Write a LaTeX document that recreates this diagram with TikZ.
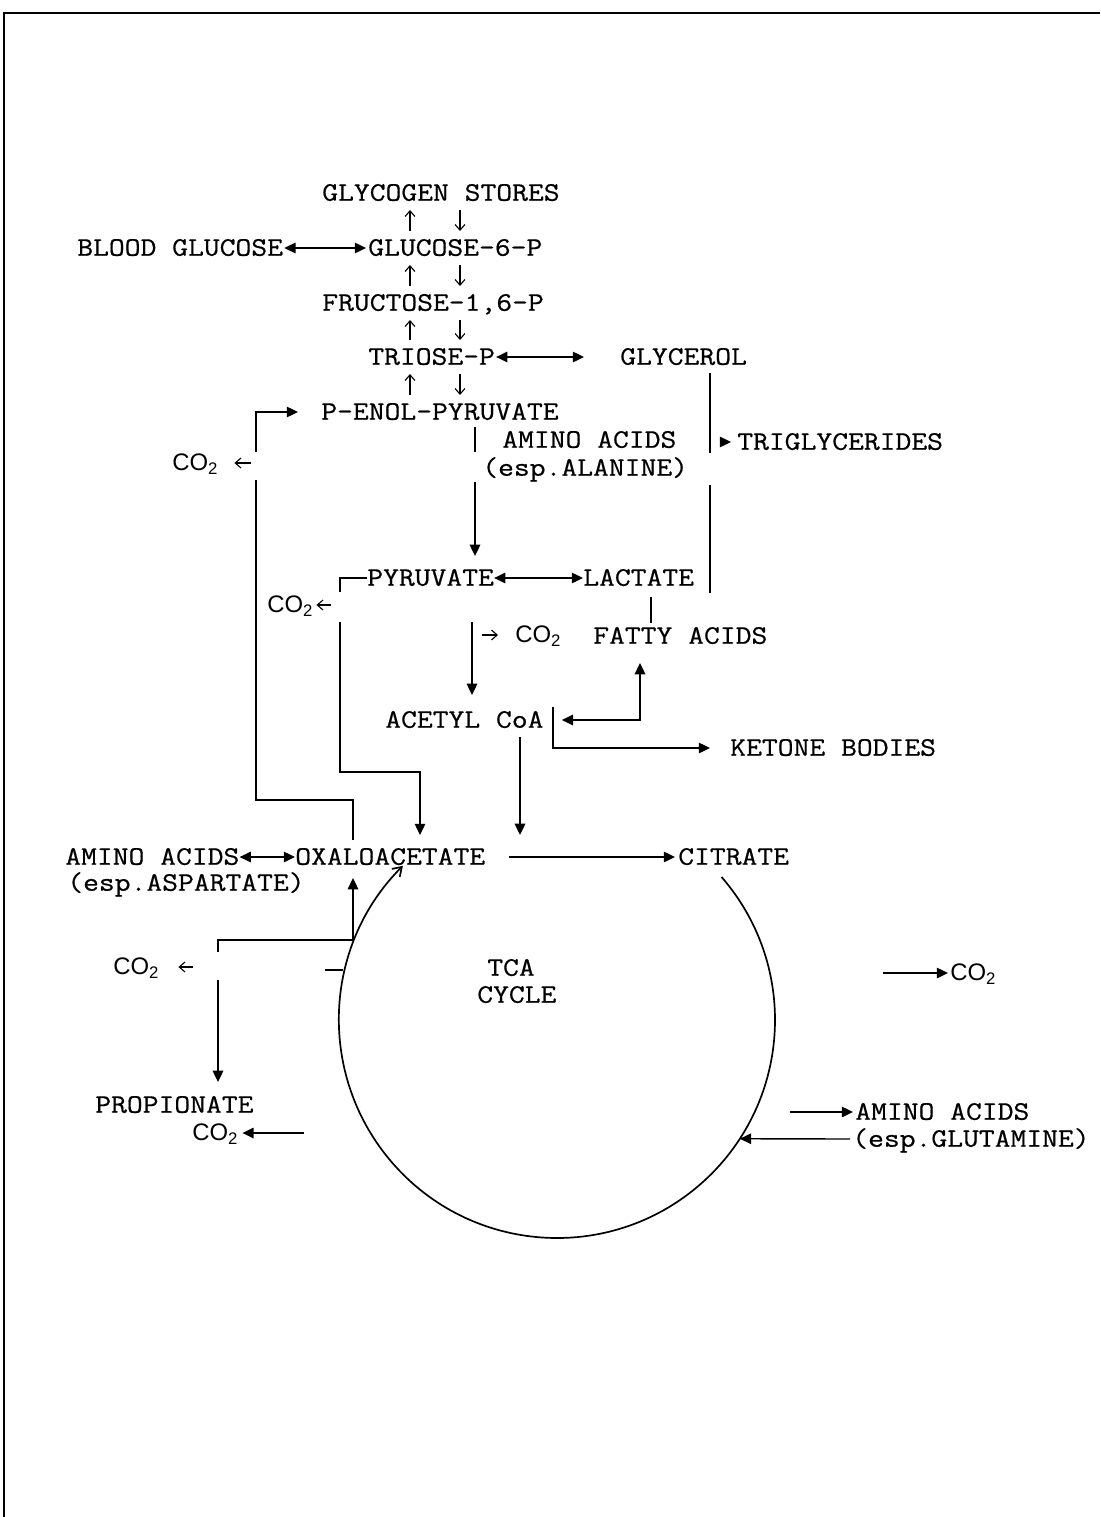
\documentclass[tikz,border=0pt]{standalone}
\usepackage{fontspec}
\setsansfont{Liberation Sans}
\setmonofont[FakeStretch=1.15, FakeBold=0.6]{Latin Modern Mono}
\usetikzlibrary{arrows.meta, calc}

\tikzset{
  lbl/.style={font=\ttfamily\fontsize{19}{23}\selectfont, inner sep=0pt,
              anchor=west, text height=11pt, text depth=0pt},
  co/.style={font=\sffamily\fontsize{17}{20}\selectfont, inner sep=0pt,
             anchor=west, text height=11pt, text depth=0pt},
  %
  plain/.style={line width=1pt},
  flow/.style={plain, -{Triangle[length=8pt, width=7.5pt]}},
  flowback/.style={plain, {Triangle[length=8pt, width=7.5pt]}-},
  flowboth/.style={plain, {Triangle[length=8pt, width=7.5pt]}-{Triangle[length=8pt, width=7.5pt]}},
  stick/.style={line width=0.8pt, -{Straight Barb[length=4pt, width=7pt]}},
  cyc/.style={line width=1.2pt},
}

\begin{document}
\begin{tikzpicture}[x=0.025cm, y=-0.025cm]
  \useasboundingbox (0,0) rectangle (1100,1517);
  \draw[line width=1.5pt] (4,1517) -- (4,13) -- (1100,13);

  % glycolysis column
  \node[lbl] (glyc)   at (322,193) {GLYCOGEN STORES};
  \node[lbl] (blood)  at (77,248)  {BLOOD GLUCOSE};
  \node[lbl] (g6p)    at (368,248) {GLUCOSE-6-P};
  \node[lbl] (f16p)   at (322,303) {FRUCTOSE-1,6-P};
  \node[lbl] (triose) at (368,357) {TRIOSE-P};
  \node[lbl] (glycerol) at (620,357) {GLYCEROL};
  \node[lbl] (pep)    at (321,412) {P-ENOL-PYRUVATE};
  \node[lbl] (aaala)  at (502,440) {AMINO ACIDS};
  \node[lbl] (ala)    at (482,468) {(esp.ALANINE)};
  \node[lbl] (tg)     at (737,442) {TRIGLYCERIDES};
  \node[lbl] (pyr)    at (367,578) {PYRUVATE};
  \node[lbl] (lac)    at (583,578) {LACTATE};
  \node[lbl] (fa)     at (593,636) {FATTY ACIDS};
  \node[lbl] (acoa)   at (385,720) {ACETYL CoA};
  \node[lbl] (ket)    at (730,748) {KETONE BODIES};
  \node[lbl] (aaasp)  at (65,857)  {AMINO ACIDS};
  \node[lbl] (asp)    at (67,883)  {(esp.ASPARTATE)};
  \node[lbl] (oaa)    at (295,857) {OXALOACETATE};
  \node[lbl] (cit)    at (678,857) {CITRATE};
  \node[lbl] (tca)    at (487,968) {TCA};
  \node[lbl] (cycle)  at (477,995) {CYCLE};
  \node[lbl] (prop)   at (95,1105) {PROPIONATE};
  \node[lbl] (aagln)  at (855,1112) {AMINO ACIDS};
  \node[lbl] (gln)    at (852,1139) {(esp.GLUTAMINE)};

  \node[co] (coa) at (172,463)  {CO\textsubscript{2}};
  \node[co] (cob) at (267,605)  {CO\textsubscript{2}};
  \node[co] (coc) at (515,635)  {CO\textsubscript{2}};
  \node[co] (cod) at (113,967)  {CO\textsubscript{2}};
  \node[co] (coe) at (192,1133) {CO\textsubscript{2}};
  \node[co] (cof) at (950,973)  {CO\textsubscript{2}};

  \coordinate (upx) at (410,0);
  \coordinate (dnx) at (460,0);
  \coordinate (px)  at (475,0);
  \coordinate (qx)  at (472,0);
  \coordinate (ax)  at (520,0);
  \coordinate (lx)  at (651,0);
  \coordinate (fx)  at (640,0);
  \coordinate (gx)  at (710,0);
  \coordinate (lpx) at (353,0);
  \coordinate (rx)  at (218,0);
  \coordinate (tc)  at (557,1020);

  \foreach \a/\b in {glyc/g6p, g6p/f16p, f16p/triose, triose/pep} {
    \draw[stick] ($(upx |- \b.north)+(0,-9)$) -- ($(upx |- \a.south)+(0,9)$);
    \draw[stick] ($(dnx |- \a.south)+(0,9)$) -- ($(dnx |- \b.north)+(0,-9)$);
  }
  \draw[flowboth] ($(blood.east)+(1,0)$) -- ($(g6p.west)+(-2,0)$);
  \draw[flowboth] ($(triose.east)+(1,0)$) -- ($(glycerol.west)+(-36,0)$);

  % glycerol down to lactate, triglycerides off it
  \draw[plain] ($(gx |- glycerol.south)+(0,8)$) -- ($(gx |- aaala.south)+(0,5)$);
  \draw[plain] ($(gx |- ala.south)+(0,9)$) -- ($(gx |- lac.south)+(0,7)$);
  \draw[flow] ($(gx |- tg.west)+(11,0)$) -- ($(tg.west)+(-6,0)$);

  % PEP to pyruvate
  \draw[plain] ($(px |- pep.south)+(0,7)$) -- ($(px |- aaala.south)+(0,4)$);
  \draw[flow] ($(px |- ala.south)+(0,6)$) -- ($(px |- pyr.north)+(0,-14)$);
  \draw[flowboth] (pyr.east) -- (lac.west);
  \draw[plain] ($(lx |- lac.south)+(0,11)$) -- ($(lx |- fa.north)+(0,-5)$);

  % pyruvate to acetyl CoA
  \draw[flow] ($(qx |- pyr.south)+(0,36)$) -- ($(qx |- acoa.north)+(0,-17)$);
  \draw[stick] ($(coc.west)+(-33,0)$) -- ($(coc.west)+(-17,0)$);
  \draw[flowboth] ($(acoa.east)+(18,0)$) -| ($(fx |- fa.south)+(0,19)$);
  \draw[flow] ($(acoa.east)+(9,-13)$) |- ($(ket.west)+(-20,0)$);
  \draw[flow] ($(ax |- acoa.south)+(0,9)$) -- ($(ax |- oaa.north)+(0,-14)$);

  % pyruvate to oxaloacetate
  \draw[plain] (pyr.west) -| ($(pyr.west)+(-27,14)$);
  \draw[flow] ($(pyr.west)+(-27,44)$) |- ($(pyr.west)+(53,194)$)
    -- ($(pyr.west)+(53,257)$);
  \draw[stick] ($(cob.east)+(18,0)$) -- ($(cob.east)+(3,0)$);

  % oxaloacetate back to PEP
  \draw[plain] ($(lpx |- oaa.north)+(0,-9)$) |- (256,800) -- (256,480);
  \draw[flow] (256,452) |- ($(pep.west)+(-23,0)$);
  \draw[stick] ($(coa.east)+(33,0)$) -- ($(coa.east)+(16,0)$);

  \draw[flowboth] (aaasp.east) -- (oaa.west);
  \draw[flow] ($(oaa.east)+(24,0)$) -- ($(cit.west)+(-3,0)$);

  % propionate
  \draw[flowback] ($(lpx |- oaa.south)+(0,13)$) |- (rx |- 0,940) -- (rx |- 0,952);
  \draw[flow] (rx |- 0,980) -- ($(rx |- prop.north)+(0,-15)$);
  \draw[stick] ($(cod.east)+(34,0)$) -- ($(cod.east)+(19,0)$);
  \draw[flowback] ($(coe.east)+(4,0)$) -- ($(coe.east)+(66,0)$);
  \draw[plain] (325,970) -- (343,970);

  % TCA cycle
  \draw[cyc, -{Straight Barb[length=6pt, width=8pt]}]
    ($(tc)+(-41:218)$) arc[start angle=-41, end angle=225, radius=218];
  \draw[flow] ($(gln.west)+(-2,0)$) -- ($(tc)+(33:218)$);
  \draw[flow] ($(cof.west)+(-67,0)$) -- ($(cof.west)+(-2,0)$);
  \draw[flow] ($(aagln.west)+(-65,0)$) -- ($(aagln.west)+(-2,0)$);

\end{tikzpicture}
\end{document}
